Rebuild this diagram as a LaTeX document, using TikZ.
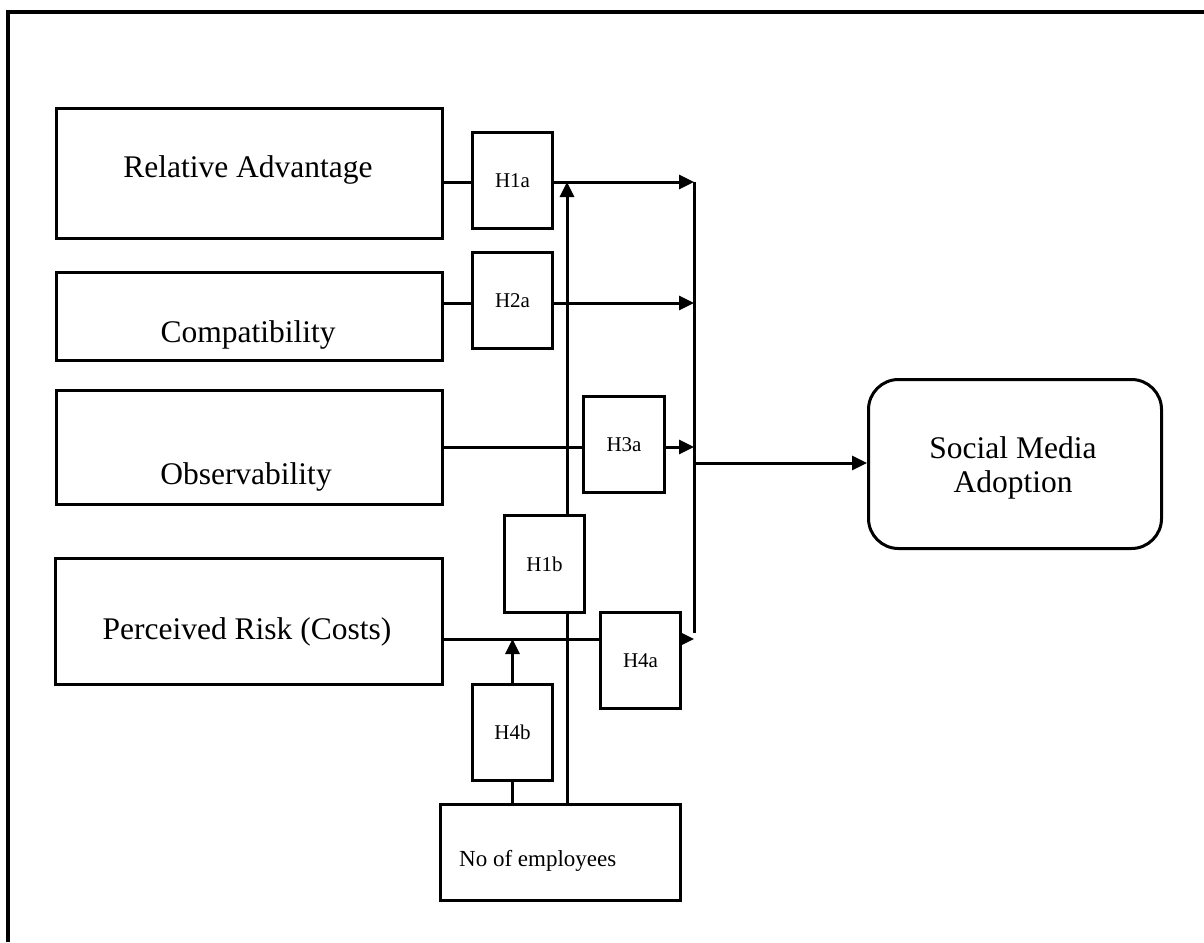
\documentclass[tikz,border=0pt]{standalone}
\usepackage{fontspec}
\setmainfont{Liberation Serif}
\usetikzlibrary{arrows.meta,backgrounds}
\begin{document}
\begin{tikzpicture}[x=1pt,y=-1pt,
  box/.style={draw,line width=3pt,fill=white,anchor=north west,inner sep=0pt},
  big/.style={font=\fontsize{31.5}{37}\selectfont,inner sep=0pt},
  hyp/.style={font=\fontsize{21}{25}\selectfont},
  ln/.style={line width=3pt},
  arr/.style={line width=3pt,-{Triangle[length=15pt,width=14pt]}}]
\useasboundingbox (0,0) rectangle (1204,942);
% outer frame
\draw[line width=3.2pt] (8,942) -- (8,12) -- (1204,12);
% construct boxes
\node[box,minimum width=386pt,minimum height=130pt] (ra) at (55,107) {};
\node[big] (rat) at (248,170) {Relative Advantage};
\node[box,minimum width=386pt,minimum height=88pt] (co) at (55,271) {};
\node[big] (cot) at (248,335) {Compatibility};
\node[box,minimum width=386pt,minimum height=114pt] (ob) at (55,389) {};
\node[big] (obt) at (246,477) {Observability};
\node[box,minimum width=387pt,minimum height=126pt] (pr) at (54,557) {};
\node[big] (prt) at (247,632) {Perceived Risk (Costs)};
% hypothesis boxes
\node[box,hyp,minimum width=80pt,minimum height=96pt] (h1a) at (471,131) {H1a};
\node[box,hyp,minimum width=80pt,minimum height=96pt] (h2a) at (471,251) {H2a};
\node[box,hyp,minimum width=81pt,minimum height=96pt] (h3a) at (582,395) {H3a};
\node[box,hyp,minimum width=80pt,minimum height=97pt] (h1b) at (503,514) {H1b};
\node[box,hyp,minimum width=80pt,minimum height=96pt] (h4a) at (599,611) {H4a};
\node[box,hyp,minimum width=80pt,minimum height=96pt] (h4b) at (471,683) {H4b};
% moderator
\node[box,minimum width=240pt,minimum height=96pt] (ne) at (439,803) {};
\node[font=\fontsize{23}{27}\selectfont,anchor=west,inner sep=0pt] (net) at (459,861) {No of employees};
% outcome
\node[draw,line width=3pt,rounded corners=30pt,anchor=north west,minimum width=293pt,minimum height=169pt,inner sep=0pt] (sma) at (867,378) {};
\node[big,align=center] (smat) at (1013,468) {Social Media\\[-3pt]Adoption};
% junction coordinates
\coordinate (j1) at (694,182);
\coordinate (j2) at (694,303);
\coordinate (j3) at (694,447);
\coordinate (j4) at (694,639);
\coordinate (jb) at (694,633);
\coordinate (jo) at (694,463);
\coordinate (v1) at (567,182);
\begin{scope}[on background layer]
\draw[arr] (ra.east |- j1) -- (j1);
\draw[arr] (co.east |- j2) -- (j2);
\draw[arr] (ob.east |- j3) -- (j3);
\draw[arr] (pr.east |- j4) -- (j4);
\draw[ln] (j1) -- (jb);
\draw[arr] (jo) -- (sma.west |- jo);
\draw[arr] (ne.north -| v1) -- (v1);
\draw[ln] (ne.north -| h4b.south) -- (h4b.south);
\draw[arr] (h4b.north) -- (h4b.north |- j4);
\end{scope}
\end{tikzpicture}
\end{document}
